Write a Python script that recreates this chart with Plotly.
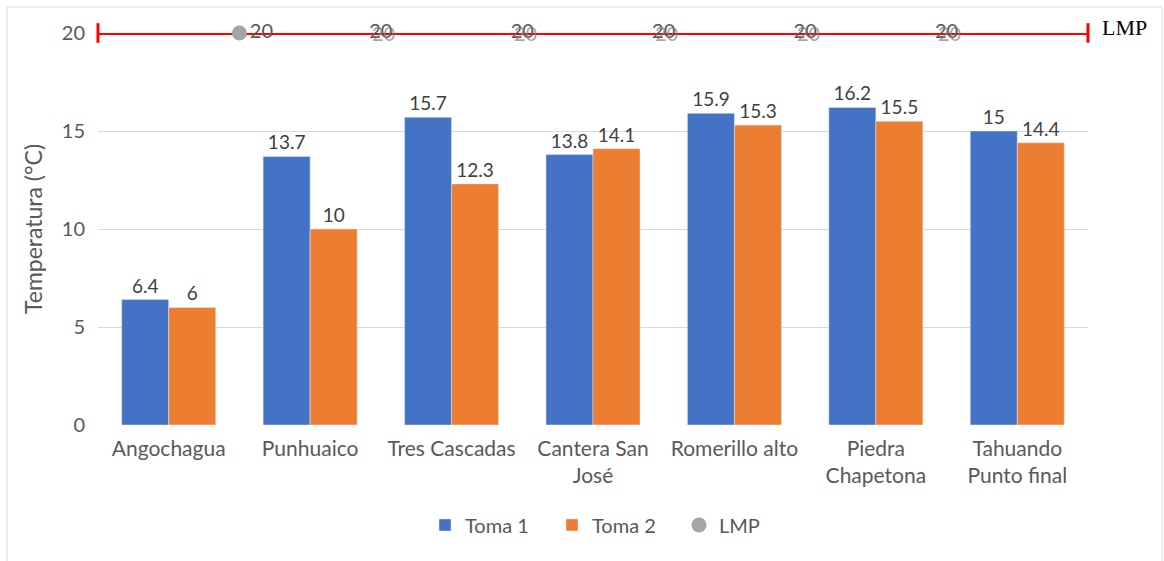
import plotly.graph_objects as go

# Sampling sites and temperature readings (°C)
sitios = ["Angochagua", "Punhuaico", "Tres Cascadas", "Cantera San<br>José",
          "Romerillo alto", "Piedra<br>Chapetona", "Tahuando<br>Punto final"]
toma1 = [6.4, 13.7, 15.7, 13.8, 15.9, 16.2, 15.0]
toma2 = [6.0, 10.0, 12.3, 14.1, 15.3, 15.5, 14.4]

# Maximum permissible limit (LMP) points, placed between sites
lmp_x = [0.5, 1.5, 2.5, 3.5, 4.5, 5.5]
lmp = [20, 20, 20, 20, 20, 20]
# Reference line for the limit, spanning the whole category axis
lmp_line_x = [-0.5, 6.5]
lmp_line_y = [20, 20]

y_ticks = [0, 5, 10, 15, 20]

FONT = "Lato"
GRAY = "#595959"
pos = list(range(len(sitios)))

fig = go.Figure()

fig.add_trace(go.Bar(
    x=pos, y=toma1, name="Toma 1", marker_color="#4472C4",
    text=[f"{v:g}" for v in toma1], textposition="outside",
    textfont=dict(family=FONT, size=19, color="#404040"), cliponaxis=False,
))
fig.add_trace(go.Bar(
    x=pos, y=toma2, name="Toma 2", marker_color="#ED7D31",
    text=[f"{v:g}" for v in toma2], textposition="outside",
    textfont=dict(family=FONT, size=19, color="#404040"), cliponaxis=False,
))

# Red limit line with end caps
fig.add_trace(go.Scatter(
    x=lmp_line_x, y=lmp_line_y, mode="lines+markers", showlegend=False,
    line=dict(color="#FF0000", width=4),
    marker=dict(symbol="line-ns-open", size=14, line=dict(color="#FF0000", width=3)),
    cliponaxis=False, hoverinfo="skip",
))

# LMP series: first point with marker and label
fig.add_trace(go.Scatter(
    x=lmp_x[:1], y=lmp[:1], name="LMP", mode="markers+text",
    marker=dict(color="#A5A5A5", size=15),
    text=[f"{v:g}" for v in lmp[:1]], textposition="middle right",
    textfont=dict(family=FONT, size=20, color=GRAY), cliponaxis=False,
))
# Remaining LMP labels
fig.add_trace(go.Scatter(
    x=lmp_x[1:], y=lmp[1:], mode="text", showlegend=False,
    text=[f"{v:g}" for v in lmp[1:]], textposition="middle center",
    textfont=dict(family=FONT, size=20, color=GRAY), cliponaxis=False,
))
for xv, yv in zip(lmp_x[1:], lmp[1:]):
    fig.add_annotation(x=xv, y=yv, text=f"{yv:g}", showarrow=False, xshift=3,
                       font=dict(family=FONT, size=20, color="#7F7F7F"),
                       opacity=0.7)

fig.add_annotation(x=1.012, xref="paper", y=20, yref="y", text="LMP",
                   showarrow=False, xanchor="left", yanchor="middle", yshift=6,
                   font=dict(family="Liberation Serif", size=22, color="black"))

# Light outer frame
fig.add_shape(type="rect", xref="paper", yref="paper",
              x0=(7 - 98) / 990, x1=(1162 - 98) / 990,
              y0=-(562 - 425) / 392, y1=(425 - 7) / 392,
              line=dict(color="#D9D9D9", width=1), layer="below")

fig.update_layout(
    width=1164, height=561,
    margin=dict(l=98, r=76, t=33, b=136),
    paper_bgcolor="white", plot_bgcolor="white",
    barmode="group", bargap=0.335, bargroupgap=0,
    font=dict(family=FONT, color=GRAY),
    showlegend=True,
    legend=dict(orientation="h", x=(425 - 98) / 990, xanchor="left", y=-0.255, yanchor="middle",
                font=dict(family=FONT, size=20, color=GRAY), itemwidth=30,
                entrywidth=82, traceorder="normal"),
    xaxis=dict(range=[-0.5, 6.5], tickvals=pos, ticktext=sitios,
               showgrid=False, zeroline=False, showline=False,
               tickfont=dict(family=FONT, size=21, color=GRAY),
               ticks="", ticklabelstandoff=9),
    yaxis=dict(range=[0, 20], tickvals=y_ticks, showgrid=True,
               gridcolor="#D9D9D9", gridwidth=1, zeroline=False, showline=False,
               tickfont=dict(family=FONT, size=20, color=GRAY),
               ticks="", ticklabelstandoff=12,
               title=dict(text="Temperatura (°C)", standoff=12,
                          font=dict(family=FONT, size=23, color=GRAY))),
)

fig.write_html("out.html")
